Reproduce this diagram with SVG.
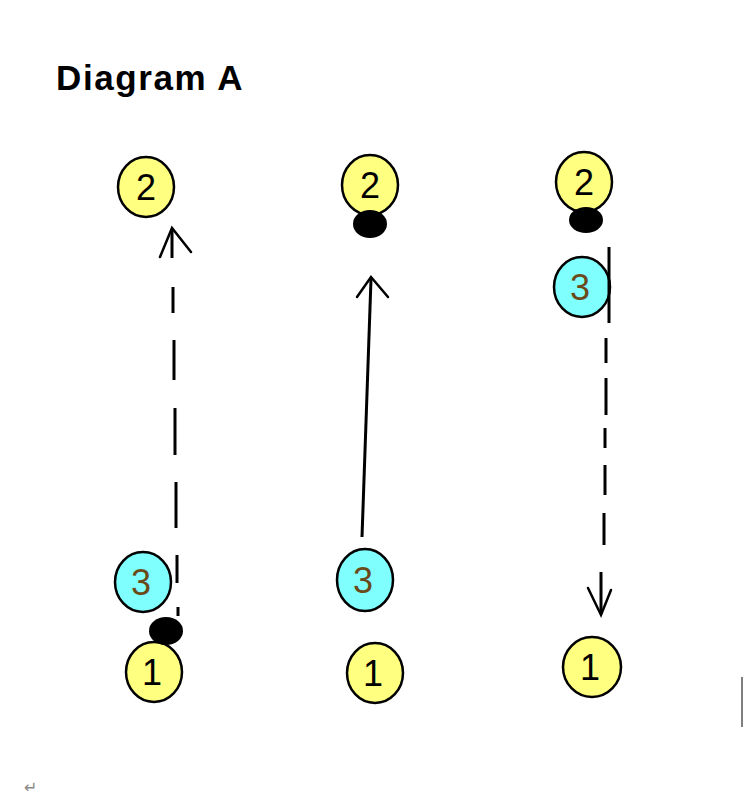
<svg xmlns="http://www.w3.org/2000/svg" width="748" height="800" viewBox="0 0 748 800">
<style>
.y{fill:#ffff80;stroke:#000;stroke-width:2.5}
.c{fill:#80ffff;stroke:#000;stroke-width:2.5}
.b{fill:#000}
.n{font-family:"Liberation Sans",Arial,sans-serif;font-size:36px;text-anchor:middle;fill:#000}
.n3{fill:#6b4a1a}
.ln{stroke:#000;stroke-width:3;fill:none}
.ah{stroke:#000;stroke-width:2.5;fill:none;stroke-linecap:round}
</style>
<rect width="748" height="800" fill="#fff"/>
<text x="56" y="90" font-family="Liberation Sans,Arial,sans-serif" font-weight="bold" font-size="35" letter-spacing="1.6" fill="#000">Diagram A</text>
<g id="col1-n2"><ellipse class="y" cx="146" cy="187" rx="28" ry="30"/><text class="n" x="146" y="200">2</text></g>
<g id="col1-n3"><ellipse class="c" cx="143" cy="582" rx="28" ry="30"/><text class="n n3" x="141" y="595">3</text></g>
<g id="col1-n1"><ellipse class="y" cx="154" cy="672" rx="28" ry="30"/><text class="n" x="152" y="685">1</text></g>
<g id="col1-dot"><ellipse class="b" cx="166" cy="631" rx="17" ry="14"/></g>
<g id="col2-n2"><ellipse class="y" cx="370" cy="185" rx="28" ry="30"/><text class="n" x="370" y="198">2</text></g>
<g id="col2-dot"><ellipse class="b" cx="370" cy="224" rx="17" ry="14"/></g>
<g id="col2-n3"><ellipse class="c" cx="365" cy="580" rx="28" ry="31"/><text class="n n3" x="363" y="593">3</text></g>
<g id="col2-n1"><ellipse class="y" cx="375" cy="673" rx="28" ry="30"/><text class="n" x="373" y="686">1</text></g>
<g id="col3-n2"><ellipse class="y" cx="584" cy="182" rx="28" ry="30"/><text class="n" x="584" y="195">2</text></g>
<g id="col3-dot"><ellipse class="b" cx="586" cy="220" rx="17" ry="13"/></g>
<g id="col3-n3"><ellipse class="c" cx="582" cy="287" rx="28" ry="30"/><text class="n n3" x="580" y="300">3</text></g>
<g id="col3-n1"><ellipse class="y" cx="592" cy="667" rx="29" ry="30"/><text class="n" x="590" y="680">1</text></g>
<g id="connectors">
<path class="ln" d="M173,287V313 M174,340V380 M175,408V455 M176,482V528 M177,555V583 M178,607V616"/>
<line class="ln" x1="172" y1="229" x2="172" y2="258"/>
<polyline class="ah" points="160,257 172,228 191,252"/>
<line class="ln" x1="371" y1="279" x2="362" y2="537"/>
<polyline class="ah" points="357,297 371,277 388,297"/>
<line class="ln" x1="609" y1="247" x2="609" y2="323"/>
<path class="ln" d="M606,338V363 M606,378V415 M605,428V448 M605,465V495 M604,513V545"/>
<line class="ln" x1="601" y1="572" x2="601" y2="614"/>
<polyline class="ah" points="588,588 601,615 611,590"/>
</g>
<line x1="742" y1="677" x2="742" y2="727" stroke="#555" stroke-width="1.5"/>
<text x="24" y="793" font-family="DejaVu Sans,sans-serif" font-size="16" fill="#888">↵</text>
</svg>
